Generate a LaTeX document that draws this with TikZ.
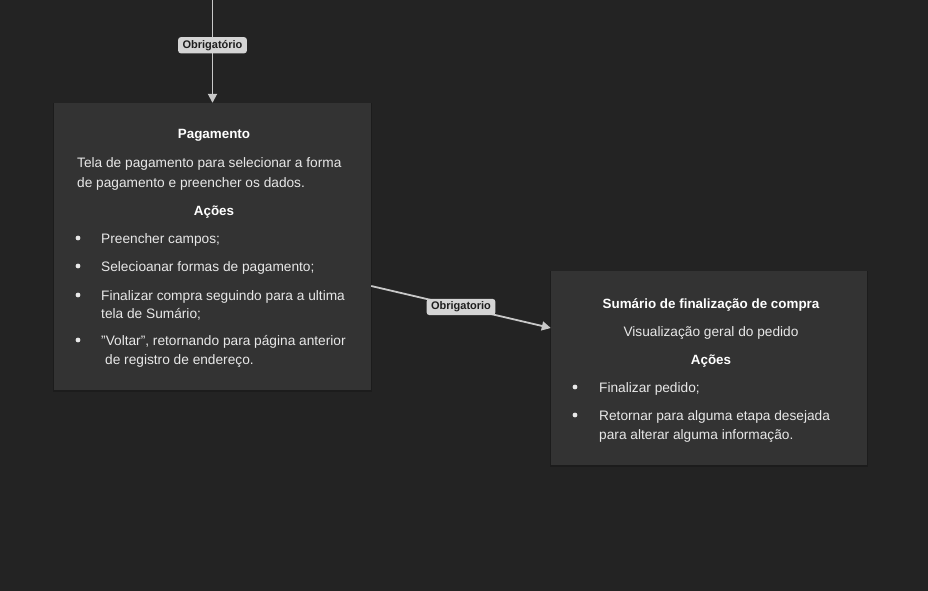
\documentclass[tikz,border=0pt]{standalone}
\usepackage{fontspec}
\setmainfont{Liberation Sans}
\usetikzlibrary{arrows.meta}
\definecolor{canvas}{HTML}{232323}
\definecolor{cardfill}{HTML}{333333}
\definecolor{cardshade}{HTML}{1C1C1C}
\definecolor{cardtext}{HTML}{E8E8E8}
\definecolor{headtext}{HTML}{FFFFFF}
\definecolor{wire}{HTML}{C8C8C8}
\definecolor{tagfill}{HTML}{D4D4D4}
\definecolor{tagtext}{HTML}{1E1E1E}
\begin{document}
\begin{tikzpicture}[x=1pt,y=-1pt,
  card/.style={fill=cardfill, draw=none, inner sep=0pt, rectangle},
  body/.style={text=cardtext, font=\fontsize{13.7}{15}\selectfont, inner sep=0pt, anchor=base west},
  head/.style={text=headtext, font=\bfseries\fontsize{13.4}{15}\selectfont, inner sep=0pt, anchor=base},
  mid/.style={text=cardtext, font=\fontsize{13.7}{15}\selectfont, inner sep=0pt, anchor=base},
  dot/.style={circle, fill=cardtext, inner sep=0pt, minimum size=4.8pt},
  wireline/.style={draw=wire, line width=1.8pt, -{Triangle[length=9pt,width=9pt]}},
  tag/.style={fill=tagfill, text=tagtext, rounded corners=3pt, font=\bfseries\fontsize{11}{13}\selectfont, inner xsep=4.5pt, inner ysep=3pt}
]
\useasboundingbox (0,0) rectangle (928,591);
\fill[canvas] (0,0) rectangle (928,591);

% soft shadows under the cards
\fill[cardshade] (53,103) rectangle (372,392);
\fill[cardshade] (550,271) rectangle (868,467);

% cards
\node[card, minimum width=317pt, minimum height=287pt] (pag) at (212.5,246.5) {};
\node[card, minimum width=316pt, minimum height=194pt] (sum) at (709,368) {};

% payment card contents
\node[head] (pagT) at (214,139) {Pagamento};
\node[body] (pagD1) at (77,167) {Tela de pagamento para selecionar a forma};
\node[body] (pagD2) at (77,187) {de pagamento e preencher os dados.};
\node[head] (pagA) at (214,215) {Ações};
\node[dot] (pb1) at (78,238) {};
\node[body] (pi1) at (101,243) {Preencher campos;};
\node[dot] (pb2) at (78,266) {};
\node[body] (pi2) at (101,271) {Selecioanar formas de pagamento;};
\node[dot] (pb3) at (78,295) {};
\node[body] (pi3a) at (101,300) {Finalizar compra seguindo para a ultima};
\node[body] (pi3b) at (101,318) {tela de Sumário;};
\node[dot] (pb4) at (78,340) {};
\node[body] (pi4a) at (101,345) {\symbol{34}Voltar\symbol{34}, retornando para página anterior};
\node[body] (pi4b) at (105,364) {de registro de endereço.};

% summary card contents
\node[head] (sumT) at (711,308) {Sumário de finalização de compra};
\node[mid] (sumD) at (711,336) {Visualização geral do pedido};
\node[head] (sumA) at (711,364) {Ações};
\node[dot] (sb1) at (575,387) {};
\node[body] (si1) at (599,392) {Finalizar pedido;};
\node[dot] (sb2) at (575,415) {};
\node[body] (si2a) at (599,420) {Retornar para alguma etapa desejada};
\node[body] (si2b) at (599,439) {para alterar alguma informação.};

% connectors
\coordinate (inflow) at (212.5,0);
\draw[wireline] (inflow) -- (pag.north)
  node[tag, pos=0.44] (tag1) {Obrigatório};
\draw[wireline] ([yshift=-39.5pt]pag.east) -- ([yshift=40pt]sum.west)
  node[tag, pos=0.5] (tag2) {Obrigatorio};
\end{tikzpicture}
\end{document}
